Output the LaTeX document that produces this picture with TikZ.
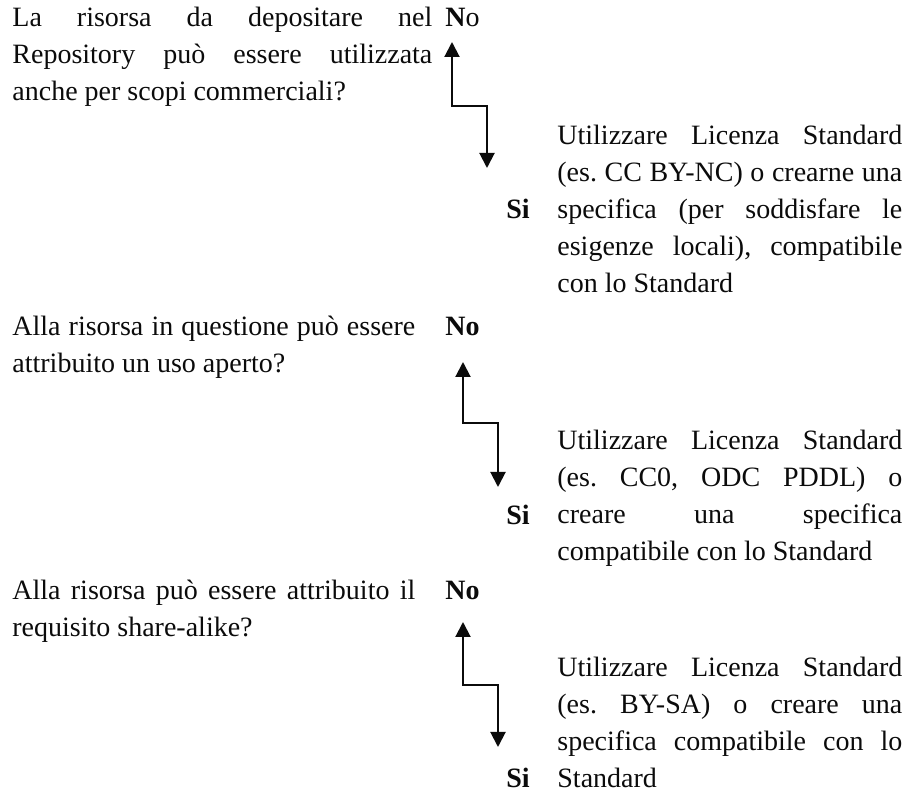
\documentclass[tikz,border=0pt]{standalone}
\usepackage{fontspec}
\setmainfont{Liberation Serif}
\usetikzlibrary{arrows.meta}
\definecolor{ink}{HTML}{0B0B0B}
\frenchspacing
\tikzset{
  >={Triangle[length=7.5pt,width=7.5pt]},
  every picture/.style={line join=miter},
  nohyph/.style={execute at begin node={\hyphenpenalty=10000\exhyphenpenalty=10000\tolerance=10000\relax}},
  txt/.style={inner sep=0pt, anchor=base west, align=justify, text=ink,
    font=\fontsize{14pt}{18.5pt}\selectfont, nohyph},
  qtxt/.style={txt, text width=#1},
  atxt/.style={txt, text width=172.5pt},
  lbl/.style={inner sep=0pt, anchor=base west, text=ink,
    font=\fontsize{14pt}{18.5pt}\selectfont\bfseries},
  flow/.style={<->, draw=ink, line width=1pt},
}
\begin{document}
\begin{tikzpicture}[x=0.5pt, y=-0.5pt]
  \useasboundingbox (0,0) rectangle (907,791);
  % ===================== commercial use =====================
  \node[qtxt=210pt] (q1) at (12,27) {La risorsa da depositare nel\linebreak
    Repository può essere utilizzata\linebreak anche per scopi commerciali?};
  \node[lbl] (no1) at (445,27) {N\textmd{o}};
  \node[lbl] (si1) at (506,219) {Si};
  \node[atxt] (a1) at (557,145) {Utilizzare Licenza Standard\linebreak
    (es. CC BY-NC) o crearne una\linebreak specifica (per soddisfare le\linebreak
    esigenze locali), compatibile\linebreak con lo Standard};
  \coordinate (up1) at (452,42); \coordinate (k1) at (487,106); \coordinate (dn1) at (487,168);
  \draw[flow] (up1) |- (k1) -- (dn1);

  % ===================== open use =====================
  \node[qtxt=201.5pt] (q2) at (12,336) {Alla risorsa in questione può essere\linebreak
    attribuito un uso aperto?};
  \node[lbl] (no2) at (445,336) {No};
  \node[lbl] (si2) at (506,525) {Si};
  \node[atxt] (a2) at (557,450) {Utilizzare Licenza Standard\linebreak
    (es. CC0, ODC PDDL) o\linebreak creare una specifica\linebreak
    compatibile con lo Standard};
  \coordinate (up2) at (463,362); \coordinate (k2) at (498,423); \coordinate (dn2) at (498,487);
  \draw[flow] (up2) |- (k2) -- (dn2);

  % ===================== share-alike =====================
  \node[qtxt=201.5pt] (q3) at (12,600) {Alla risorsa può essere attribuito il\linebreak
    requisito share-alike?};
  \node[lbl] (no3) at (445,600) {No};
  \node[lbl] (si3) at (506,788) {Si};
  \node[atxt] (a3) at (557,677) {Utilizzare Licenza Standard\linebreak
    (es. BY-SA) o creare una\linebreak specifica compatibile con lo\linebreak Standard};
  \coordinate (up3) at (463,622); \coordinate (k3) at (498,685); \coordinate (dn3) at (498,747);
  \draw[flow] (up3) |- (k3) -- (dn3);
\end{tikzpicture}
\end{document}
